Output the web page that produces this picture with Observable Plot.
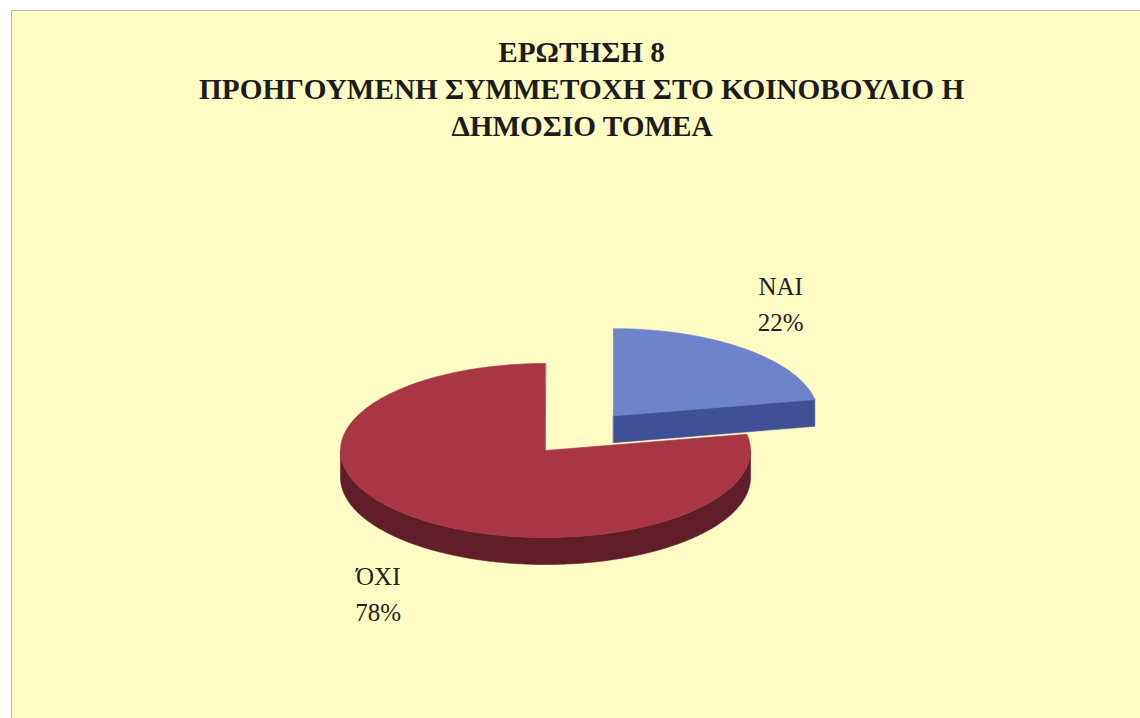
<!DOCTYPE html>
<html>
<head>
<meta charset="utf-8">
<script src="https://cdn.jsdelivr.net/npm/d3@7"></script>
<script src="https://cdn.jsdelivr.net/npm/@observablehq/plot@0.6"></script>
<style>
  html, body { margin: 0; padding: 0; background: #ffffff; width: 1140px; height: 718px; overflow: hidden; }
  #frame { position: absolute; left: 11px; top: 10px; width: 1140px; height: 720px;
           background: #FEFCC4; border-left: 1.5px solid #b9b9ae; border-top: 1.5px solid #b9b9ae; }
  #chart { position: absolute; left: 0; top: 0; }
  #title { position: absolute; left: 12px; top: 35px; width: 1140px; }
  #title div { height: 37px; line-height: 37px; text-align: center; white-space: nowrap;
               font: bold 30px "Liberation Serif", "Times New Roman", serif; color: #1c1c1c; }
  #title span { display: inline-block; transform-origin: 50% 50%; }
</style>
</head>
<body>
<div id="frame"></div>
<div id="chart"></div>
<div id="title"></div>
<script>
// ---- data ----
const titleLines = ["ΕΡΩΤΗΣΗ 8", "ΠΡΟΗΓΟΥΜΕΝΗ ΣΥΜΜΕΤΟΧΗ ΣΤΟ ΚΟΙΝΟΒΟΥΛΙΟ Η", "ΔΗΜΟΣΙΟ ΤΟΜΕΑ"];
const categories = ["ΝΑΙ", "ΌΧΙ"];
const percents = [22, 78];

// ---- styles / layout ----
const topColors = ["#6D83CC", "#A83645"];
const sideColors = ["#3F5096", "#5F1E2A"];
const explode = [0.52, 0];
const W = 1140, H = 718;
const CX = 545, CY = 450, RX = 205, RY = 87, DEPTH = 27;
const LABEL_GAP = 26, LABEL_HW = 20, LABEL_HH = 27;

// title
const titleDiv = document.getElementById("title");
const spans = titleLines.map(t => {
  const d = document.createElement("div");
  const s = document.createElement("span");
  s.textContent = t;
  d.appendChild(s);
  titleDiv.appendChild(d);
  return s;
});
const natural = spans[1].getBoundingClientRect().width;
const k = 765 / natural;
spans.forEach(s => s.style.transform = `scaleX(${k})`);

// geometry from data
const total = d3.sum(percents);
let acc = 0;
const slices = percents.map((p, i) => {
  const start = acc / total * 2 * Math.PI;
  acc += p;
  const end = acc / total * 2 * Math.PI;
  const mid = (start + end) / 2;
  const cx = CX + explode[i] * RX * Math.sin(mid);
  const cy = CY - explode[i] * RY * Math.cos(mid);
  return {i, p, start, end, mid, cx, cy};
});

function pt(s, th, dz = 0) {
  return {x: s.cx + RX * Math.sin(th), y: s.cy - RY * Math.cos(th) + dz};
}
function arc(s, a0, a1, dz = 0) {
  const n = Math.max(2, Math.ceil(Math.abs(a1 - a0) / (Math.PI / 180)));
  return d3.range(n + 1).map(j => pt(s, a0 + (a1 - a0) * j / n, dz));
}

const marks = [];
function poly(points, fill) {
  marks.push(Plot.line(points, {x: "x", y: "y", fill, stroke: fill, strokeWidth: 0.6, curve: "linear-closed"}));
}

// draw back (exploded) slice first, front slice afterwards
for (const idx of [0, 1]) {
  const s = slices[idx];
  const c = {x: s.cx, y: s.cy};
  const cd = {x: s.cx, y: s.cy + DEPTH};
  const a0 = Math.max(s.start, Math.PI / 2), a1 = Math.min(s.end, 3 * Math.PI / 2);
  if (a1 > a0) {
    poly([...arc(s, a0, a1), ...arc(s, a0, a1, DEPTH).reverse()], sideColors[idx]);
  }
  if (Math.sin(s.start) < -1e-6) {
    poly([c, pt(s, s.start), pt(s, s.start, DEPTH), cd], sideColors[idx]);
  }
  if (Math.sin(s.end) > 1e-6) {
    poly([c, pt(s, s.end), pt(s, s.end, DEPTH), cd], sideColors[idx]);
  }
  poly([c, ...arc(s, s.start, s.end)], topColors[idx]);
}

// labels
const labels = slices.map(s => {
  const sx = Math.sin(s.mid), cy = Math.cos(s.mid);
  const ax = s.cx + (RX + LABEL_GAP) * sx;
  const ay = s.cy - (RY + LABEL_GAP) * cy + (cy < 0 ? DEPTH : 0);
  return {
    x: ax + Math.sign(sx) * LABEL_HW,
    y: ay - Math.sign(cy) * LABEL_HH,
    text: `${categories[s.i]}\n${s.p}%`
  };
});
marks.push(Plot.text(labels, {
  x: "x", y: "y", text: "text", fontSize: 25, lineHeight: 1.44,
  fontFamily: '"Liberation Serif", "Times New Roman", serif', fill: "#222"
}));

const chart = Plot.plot({
  width: W, height: H, margin: 0,
  style: {background: "transparent", overflow: "visible"},
  x: {domain: [0, W], range: [0, W], axis: null},
  y: {domain: [0, H], range: [0, H], axis: null},
  marks
});
document.getElementById("chart").appendChild(chart);
</script>
</body>
</html>
